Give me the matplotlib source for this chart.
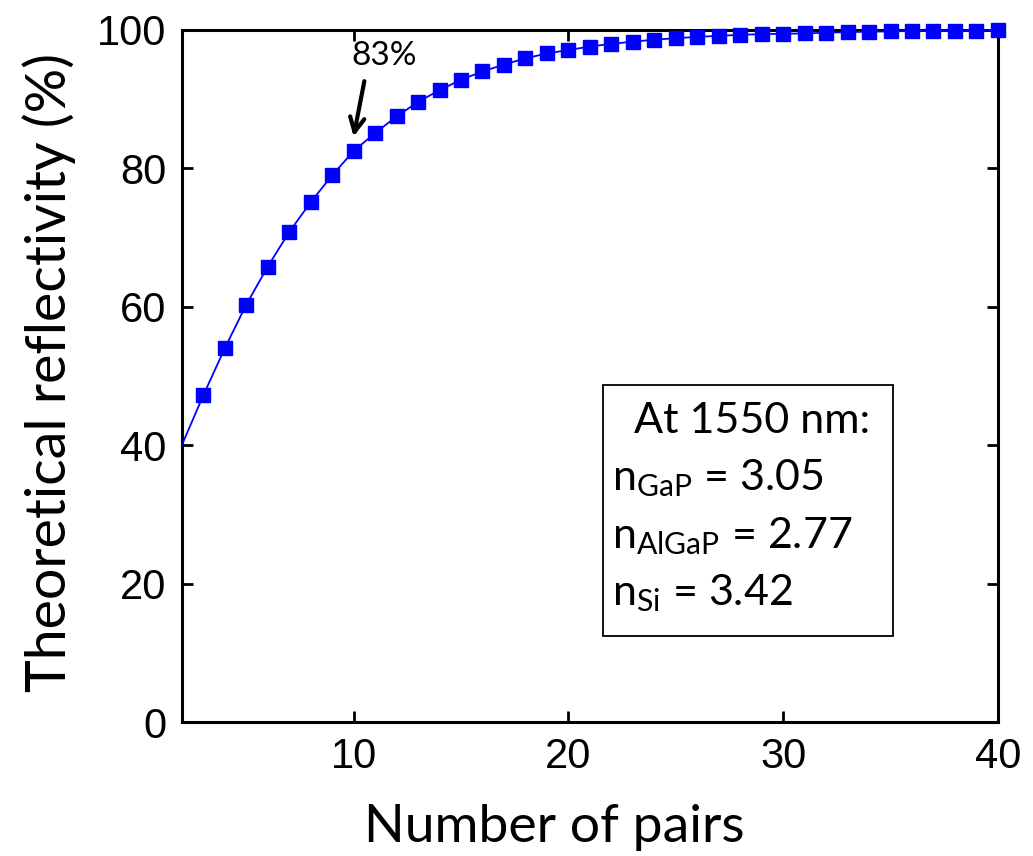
import matplotlib.pyplot as plt
import numpy as np
from matplotlib.patches import Rectangle

plt.rcParams['mathtext.fontset'] = 'custom'
plt.rcParams['mathtext.rm'] = 'Lato'

# DBR reflectivity vs number of GaP/AlGaP pairs
pairs = np.arange(2, 41)
reflectivity = [40.0, 47.2, 54.0, 60.3, 65.8, 70.8, 75.1, 79.0, 82.5, 85.1,
                87.5, 89.6, 91.3, 92.8, 94.0, 95.0, 95.9, 96.6, 97.1, 97.6,
                98.0, 98.3, 98.6, 98.8, 99.0, 99.15, 99.3, 99.4, 99.45, 99.5,
                99.6, 99.7, 99.75, 99.8, 99.85, 99.87, 99.9, 99.92, 99.94]

info_lines = ['  At 1550 nm:',
              'n$_\\mathregular{GaP}$ = 3.05',
              'n$_\\mathregular{AlGaP}$ = 2.77',
              'n$_\\mathregular{Si}$ = 3.42']

fig = plt.figure(figsize=(10.33, 8.56), dpi=100)
ax = fig.add_axes([0.176, 0.1565, 0.790, 0.8085])

ax.plot(pairs, reflectivity, '-', color='#0000ff', lw=1.3, marker='s',
        markersize=10.5, markevery=range(1, len(pairs)), clip_on=False, zorder=5)

ax.set_xlim(2, 40)
ax.set_ylim(0, 100)
ax.set_xticks([10, 20, 30, 40])
ax.set_yticks([0, 20, 40, 60, 80, 100])
ax.tick_params(direction='in', top=True, right=True, length=8, width=2,
               labelsize=30, pad=11)
for lab in ax.get_xticklabels() + ax.get_yticklabels():
    lab.set_family('Liberation Sans')
for s in ax.spines.values():
    s.set_linewidth(2.2)

ax.set_xlabel('Number of pairs', family='Lato', fontsize=38.5)
ax.set_ylabel('Theoretical reflectivity (%)', family='Lato', fontsize=40)
ax.xaxis.set_label_coords(0.456, -0.118)
ax.yaxis.set_label_coords(-0.13, 0.505)

# annotation for 10 pairs
ax.annotate('', xy=(10.0, 84.6), xytext=(10.5, 92.6),
            arrowprops=dict(arrowstyle='->', lw=3, color='black',
                            shrinkA=0, shrinkB=0, mutation_scale=26))
ax.text(11.4, 96.3, '83%', ha='center', va='center', family='Lato', fontsize=24)

# refractive index box
ax.add_patch(Rectangle((0.516, 0.124), 0.355, 0.363, transform=ax.transAxes,
                       fc='white', ec='black', lw=1.3, zorder=6))
for i, line in enumerate(info_lines):
    ax.text(0.527, 0.435 - i * 0.083, line, transform=ax.transAxes,
            ha='left', va='center', family='Lato', fontsize=31, zorder=7)

fig.savefig('out.png', dpi=100)
